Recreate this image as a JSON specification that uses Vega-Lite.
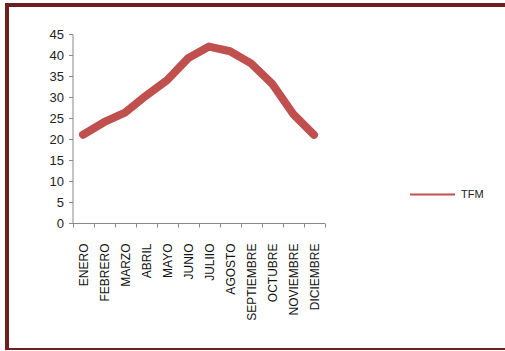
{
  "$schema": "https://vega.github.io/schema/vega-lite/v6.json",
  "autosize": "none",
  "width": 700,
  "height": 345,
  "padding": {"left": 7, "top": 5, "right": 0, "bottom": 0},
  "background": "white",
  "config": {
    "view": {"stroke": "#6b1f1f", "strokeWidth": 4},
    "font": "Liberation Sans"
  },
  "data": {
    "values": [
      {"mes": "ENERO", "serie": "TFM", "valor": 21},
      {"mes": "FEBRERO", "serie": "TFM", "valor": 24},
      {"mes": "MARZO", "serie": "TFM", "valor": 26.3},
      {"mes": "ABRIL", "serie": "TFM", "valor": 30.3},
      {"mes": "MAYO", "serie": "TFM", "valor": 34},
      {"mes": "JUNIO", "serie": "TFM", "valor": 39.2},
      {"mes": "JULIIO", "serie": "TFM", "valor": 42},
      {"mes": "AGOSTO", "serie": "TFM", "valor": 40.9},
      {"mes": "SEPTIEMBRE", "serie": "TFM", "valor": 38},
      {"mes": "OCTUBRE", "serie": "TFM", "valor": 33.2},
      {"mes": "NOVIEMBRE", "serie": "TFM", "valor": 26},
      {"mes": "DICIEMBRE", "serie": "TFM", "valor": 21}
    ]
  },
  "mark": {"type": "line", "strokeWidth": 8, "strokeCap": "round", "strokeJoin": "round"},
  "encoding": {
    "x": {
      "field": "mes",
      "type": "nominal",
      "sort": null,
      "scale": {"type": "band", "range": [65.5, 317.5], "paddingInner": 0, "paddingOuter": 0},
      "axis": {
        "title": null,
        "offset": -127,
        "tickBand": "extent",
        "labelAngle": -90,
        "labelAlign": "right",
        "labelBaseline": "middle",
        "labelFontSize": 12,
        "labelColor": "#111",
        "labelPadding": 16,
        "tickSize": 4,
        "tickColor": "#888",
        "domainColor": "#888",
        "grid": false
      }
    },
    "y": {
      "field": "valor",
      "type": "quantitative",
      "scale": {"domain": [0, 45], "range": [218, 29], "nice": false},
      "axis": {
        "title": null,
        "offset": -65.5,
        "values": [0, 5, 10, 15, 20, 25, 30, 35, 40, 45],
        "labelFontSize": 13,
        "labelColor": "#222",
        "labelPadding": 5,
        "tickSize": 4,
        "tickColor": "#888",
        "domainColor": "#888",
        "grid": false
      }
    },
    "color": {
      "field": "serie",
      "type": "nominal",
      "scale": {"range": ["#c0504d"]},
      "legend": {
        "title": null,
        "orient": "none",
        "legendX": 402,
        "legendY": 166,
        "padding": 0,
        "symbolType": "stroke",
        "symbolSize": 2025,
        "symbolStrokeWidth": 2,
        "labelFontSize": 11,
        "labelColor": "#222",
        "labelOffset": 5
      }
    }
  }
}
